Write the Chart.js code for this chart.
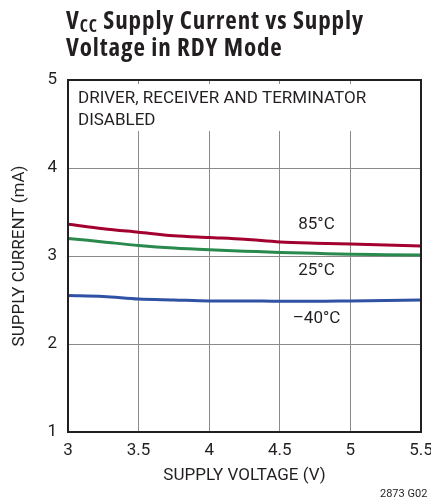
<!DOCTYPE html>
<html>
<head>
<meta charset="utf-8">
<script src="https://cdn.jsdelivr.net/npm/chart.js@4"></script>
<style>
  html, body { margin: 0; padding: 0; background: #fff; }
  #wrap { position: relative; width: 431px; height: 500px; }
  #title { position: absolute; left: 66px; top: 6px; font-family: "Open Sans", sans-serif; font-stretch: condensed; font-weight: bold; font-size: 25px; line-height: 27px; letter-spacing: 0.9px; color: #231f20; white-space: nowrap; }
  #title sub { font-size: 17px; vertical-align: -3px; line-height: 0; }
  #foot { position: absolute; left: 380px; top: 488px; font-family: Roboto, sans-serif; font-size: 11px; line-height: 12px; color: #231f20; }
  canvas { position: absolute; left: 0; top: 0; }
</style>
</head>
<body>
<div id="wrap">
  <canvas id="c" width="431" height="500"></canvas>
  <div id="title">V<sub>CC</sub> Supply Current vs Supply<br>Voltage in RDY Mode</div>
  <div id="foot">2873 G02</div>
</div>
<script>
// ---- data ----
const voltages = [3, 3.25, 3.5, 3.75, 4, 4.25, 4.5, 4.75, 5, 5.25, 5.5];
const current85 = [3.36, 3.31, 3.27, 3.23, 3.21, 3.19, 3.16, 3.145, 3.135, 3.125, 3.115];
const current25 = [3.20, 3.16, 3.12, 3.09, 3.07, 3.055, 3.04, 3.03, 3.02, 3.015, 3.01];
const currentM40 = [2.55, 2.54, 2.51, 2.50, 2.49, 2.49, 2.485, 2.485, 2.49, 2.495, 2.50];
const seriesNames = ["85°C", "25°C", "\u201340°C"];
const xTicks = [3, 3.5, 4, 4.5, 5, 5.5];
const yTicks = [1, 2, 3, 4, 5];
const noteLines = ["DRIVER, RECEIVER AND TERMINATOR", "DISABLED"];

// label anchor positions in data space (x, y)
const labelAnchors = [[4.76, 3.36], [4.76, 2.835], [4.76, 2.29]];

const FONT = 'Roboto, "Liberation Sans", Arial, sans-serif';
const FS = 17;
const INK = '#231f20';
const colors = ['#a3002f', '#2a8a4e', '#2f52a4'];

const mk = (arr) => voltages.map((v, i) => ({x: v, y: arr[i]}));

const overlay = {
  id: 'overlay',
  beforeDatasetsDraw(chart) {
    const {ctx, chartArea: a} = chart;
    ctx.save();
    ctx.fillStyle = '#fff';
    ctx.fillRect(a.left + 2, a.top + 4, a.right - a.left - 4, 47);
    ctx.fillStyle = INK;
    ctx.font = FS + 'px ' + FONT;
    ctx.textBaseline = 'alphabetic';
    ctx.textAlign = 'left';
    ctx.fillText(noteLines[0], a.left + 10, a.top + 23);
    ctx.fillText(noteLines[1], a.left + 10, a.top + 45);
    ctx.restore();
  },
  afterDraw(chart) {
    const {ctx, chartArea: a, scales} = chart;
    ctx.save();
    ctx.strokeStyle = INK;
    ctx.lineWidth = 2;
    ctx.strokeRect(a.left, a.top, a.right - a.left, a.bottom - a.top);
    ctx.fillStyle = INK;
    ctx.font = FS + 'px ' + FONT;
    ctx.textAlign = 'center';
    ctx.textBaseline = 'middle';
    seriesNames.forEach((n, i) => {
      ctx.fillText(n, scales.x.getPixelForValue(labelAnchors[i][0]), scales.y.getPixelForValue(labelAnchors[i][1]));
    });
    ctx.restore();
  }
};

new Chart(document.getElementById('c'), {
  type: 'line',
  data: {
    datasets: [
      {label: seriesNames[0], data: mk(current85), borderColor: colors[0]},
      {label: seriesNames[1], data: mk(current25), borderColor: colors[1]},
      {label: seriesNames[2], data: mk(currentM40), borderColor: colors[2]}
    ]
  },
  options: {
    responsive: false,
    animation: false,
    devicePixelRatio: 1,
    layout: {padding: {top: 80, right: 10, left: 0, bottom: 0}},
    elements: {
      line: {borderWidth: 3, cubicInterpolationMode: 'monotone'},
      point: {radius: 0}
    },
    plugins: {legend: {display: false}, tooltip: {enabled: false}},
    scales: {
      x: {
        type: 'linear', min: 3, max: 5.5,
        afterBuildTicks: (s) => { s.ticks = xTicks.map(v => ({value: v})); },
        afterFit: (s) => { s.height = 68; s.paddingRight = 0; s.paddingLeft = 0; },
        grid: {color: '#8a8a8a', lineWidth: 1, drawTicks: false},
        border: {display: false},
        ticks: {color: INK, font: {family: FONT, size: FS}, padding: 9,
                callback: (v) => String(v)},
        title: {display: true, text: 'SUPPLY VOLTAGE (V)', color: INK,
                font: {family: FONT, size: FS}, padding: {top: 0, bottom: 14}}
      },
      y: {
        type: 'linear', min: 1, max: 5,
        afterBuildTicks: (s) => { s.ticks = yTicks.map(v => ({value: v})); },
        afterFit: (s) => { s.width = 68; s.paddingTop = 0; s.paddingBottom = 0; },
        grid: {color: '#8a8a8a', lineWidth: 1, drawTicks: false},
        border: {display: false},
        ticks: {color: INK, font: {family: FONT, size: FS}, padding: 11,
                callback: (v) => String(v)},
        title: {display: true, text: 'SUPPLY CURRENT (mA)', color: INK,
                font: {family: FONT, size: FS}, padding: {top: 10, bottom: 0}}
      }
    }
  },
  plugins: [overlay]
});
</script>
</body>
</html>
